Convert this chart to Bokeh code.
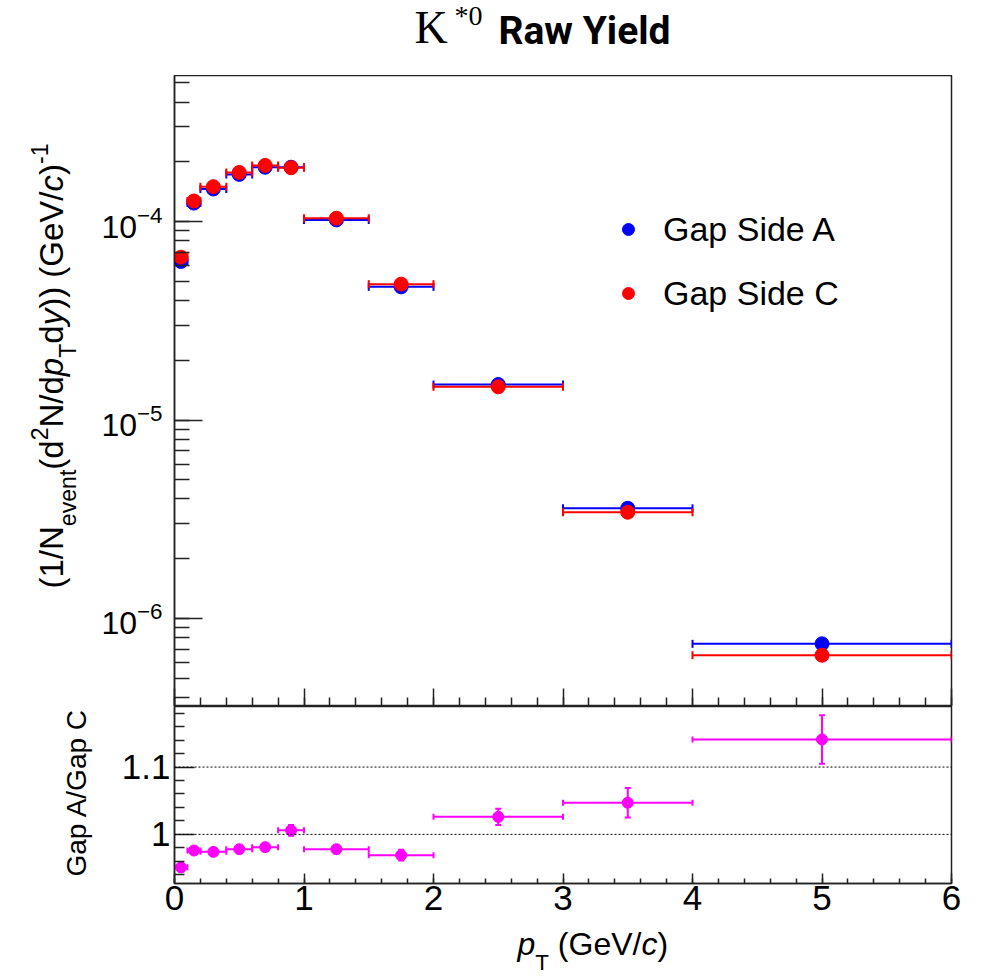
import math
from bokeh.plotting import figure
from bokeh.layouts import column, row
from bokeh.models import (ColumnDataSource, Whisker, TeeHead, Range1d, LogTicker,
                          SingleIntervalTicker, FixedTicker, Label, Legend, LegendItem, Span)
from bokeh.embed import file_html
from bokeh.resources import INLINE

# ---------------- data ----------------
pt = [0.05, 0.15, 0.3, 0.5, 0.7, 0.9, 1.25, 1.75, 2.5, 3.5, 5.0]
pt_lo = [0.0, 0.1, 0.2, 0.4, 0.6, 0.8, 1.0, 1.5, 2.0, 3.0, 4.0]
pt_hi = [0.1, 0.2, 0.4, 0.6, 0.8, 1.0, 1.5, 2.0, 3.0, 4.0, 6.0]

yield_A = [6.30e-5, 1.24e-4, 1.46e-4, 1.73e-4, 1.88e-4, 1.88e-4, 1.02e-4, 4.69e-5, 1.51e-5, 3.59e-6, 7.45e-7]
yield_A_err = [4.0e-7, 6.0e-7, 7.0e-7, 8.0e-7, 9.0e-7, 9.0e-7, 5.0e-7, 2.5e-7, 1.2e-7, 5.0e-8, 1.9e-8]
yield_C = [6.62e-5, 1.27e-4, 1.50e-4, 1.77e-4, 1.92e-4, 1.87e-4, 1.04e-4, 4.84e-5, 1.47e-5, 3.43e-6, 6.53e-7]
yield_C_err = [4.0e-7, 6.0e-7, 7.0e-7, 8.0e-7, 9.0e-7, 9.0e-7, 5.0e-7, 2.5e-7, 1.2e-7, 5.0e-8, 1.7e-8]

ratio = [0.951, 0.976, 0.974, 0.978, 0.981, 1.006, 0.978, 0.969, 1.026, 1.047, 1.141]
ratio_err = [0.006, 0.005, 0.005, 0.005, 0.005, 0.008, 0.006, 0.008, 0.012, 0.022, 0.036]

x_tick_values = [0, 1, 2, 3, 4, 5, 6]
ratio_ticks = [1.0, 1.1]
ratio_minor = [0.94, 0.96, 0.98, 1.02, 1.04, 1.06, 1.08, 1.12, 1.14, 1.16, 1.18]
ref_lines = [1.0, 1.1]

BLUE, RED, MAG = "#0000ff", "#ff0000", "#ff00ff"
FONT = "Liberation Sans"

def src(y, err):
    return ColumnDataSource(dict(
        x=pt, xlo=pt_lo, xhi=pt_hi, y=y,
        ylo=[a - b for a, b in zip(y, err)], yhi=[a + b for a, b in zip(y, err)]))

srcA, srcC, srcR = src(yield_A, yield_A_err), src(yield_C, yield_C_err), src(ratio, ratio_err)

def add_err(p, s, color, lw, cap):
    for dim, base, lo, hi in (("width", "y", "xlo", "xhi"), ("height", "x", "ylo", "yhi")):
        p.add_layout(Whisker(source=s, base=base, lower=lo, upper=hi, dimension=dim,
                             line_color=color, line_width=lw,
                             upper_head=TeeHead(size=cap, line_color=color, line_width=lw),
                             lower_head=TeeHead(size=cap, line_color=color, line_width=lw)))

def style(p):
    p.background_fill_color = "white"
    p.border_fill_color = "white"
    p.outline_line_color = "#222222"
    p.outline_line_width = 1.5
    p.xgrid.visible = False
    p.ygrid.visible = False
    p.title.visible = False
    for ax in (p.xaxis[0], p.yaxis[0]):
        ax.axis_line_color = "#222222"
        ax.axis_line_width = 1.5
        ax.major_tick_line_color = "#222222"
        ax.minor_tick_line_color = "#222222"
        ax.major_tick_line_width = 1.5
        ax.minor_tick_line_width = 1.5
        ax.major_tick_out = 0
        ax.minor_tick_out = 0
        ax.major_label_text_font = FONT
        ax.major_label_text_color = "black"

def text_canvas(w, h):
    """A blank figure used only to carry text labels."""
    f = figure(width=w, height=h, x_range=Range1d(0, 1), y_range=Range1d(0, 1),
               x_axis_location=None, y_axis_location=None, output_backend="svg",
               toolbar_location=None, min_border=0)
    f.min_border_left = f.min_border_right = f.min_border_top = f.min_border_bottom = 0
    f.outline_line_color = None
    f.xgrid.visible = False
    f.ygrid.visible = False
    f.title.visible = False
    f.background_fill_color = "white"
    f.border_fill_color = "white"
    return f

# the label anchor ends up ~0.35 em above the drawn baseline; compensate
H_SHIFT = 0.34
R_SHIFT = 0.40

def hlbl(f, x, base_y_from_bottom, text, size, font=FONT, style="normal"):
    f.add_layout(Label(x=x, y=base_y_from_bottom + H_SHIFT * size, x_units="screen",
                       y_units="screen", text=text, text_font=font,
                       text_font_size=f"{size:.1f}px", text_font_style=style,
                       text_color="black", text_align="left", text_baseline="alphabetic"))

def vlbl(f, base_x, y, text, size, style="normal"):
    f.add_layout(Label(x=base_x - R_SHIFT * size, y=y, x_units="screen", y_units="screen",
                       text=text, text_font=FONT, text_font_size=f"{size:.1f}px",
                       text_font_style=style, text_color="black", angle=math.pi / 2,
                       text_align="left", text_baseline="alphabetic"))

# character widths (Helvetica / Liberation Sans metrics, per 1000 em)
W = {'(': 333, ')': 333, '1': 556, '/': 278, 'N': 722, 'e': 556, 'v': 500, 'n': 556,
     't': 278, 'd': 556, '2': 556, 'p': 556, 'T': 611, 'y': 500, ' ': 278, 'G': 778,
     'V': 667, 'c': 500, '-': 333, 'a': 556, 'A': 667, 'C': 722}

def layout_runs(runs, size):
    pos, out = 0.0, []
    for txt, kind in runs:
        s = size * 0.7 if kind in ("sub", "sup") else size
        lead = len(txt) - len(txt.lstrip(" "))
        off = lead * W[' '] / 1000.0 * s
        out.append((txt.strip(" "), kind, pos + off, s))
        pos += sum(W[c] for c in txt) / 1000.0 * s
    return out

LEFT_W = 95          # width of the text strip left of the panels
TOP_H = 75           # title strip height
X_FRAME_LEFT = 174   # frame left edge in the page

x_range = Range1d(0, 6)

# ---------------- title strip ----------------
title_fig = text_canvas(981, TOP_H)
hlbl(title_fig, 414, TOP_H - 43, "K", 46, font="Liberation Serif")
hlbl(title_fig, 454, TOP_H - 25, "*0", 28, font="Liberation Serif")
hlbl(title_fig, 498, TOP_H - 44, "Raw Yield", 39, font="Roboto", style="bold")

# ---------------- upper panel ----------------
H1 = 631
p1 = figure(width=981 - LEFT_W, height=H1, x_range=x_range, y_range=Range1d(3.6e-7, 5.45e-4),
            y_axis_type="log", output_backend="svg", toolbar_location=None,
            min_border_left=X_FRAME_LEFT - LEFT_W, min_border_right=30,
            min_border_top=0, min_border_bottom=0)
style(p1)
p1.yaxis.ticker = LogTicker(num_minor_ticks=10)
p1.yaxis.major_tick_in = 28
p1.yaxis.minor_tick_in = 15
p1.yaxis.major_label_text_font_size = "32px"
p1.yaxis.major_label_standoff = 12
p1.xaxis.ticker = SingleIntervalTicker(interval=1, num_minor_ticks=5)
p1.xaxis.major_tick_in = 18
p1.xaxis.minor_tick_in = 9
# tick marks only: the labels are empty and take (almost) no room
p1.xaxis.major_label_text_font_size = "1px"
p1.xaxis.major_label_overrides = {str(v): "" for v in x_tick_values}
p1.xaxis.major_label_standoff = -10

add_err(p1, srcA, BLUE, 2, 8)
add_err(p1, srcC, RED, 2, 8)
rA = p1.scatter("x", "y", source=srcA, size=14, color=BLUE)
rC = p1.scatter("x", "y", source=srcC, size=14, color=RED)

legend = Legend(items=[LegendItem(label="Gap Side A", renderers=[rA]),
                       LegendItem(label="Gap Side C", renderers=[rC])],
                location=(439, 393), padding=0, margin=0, spacing=24,
                glyph_width=30, glyph_height=40, label_height=40, label_standoff=20,
                label_text_font=FONT, label_text_font_size="34px", label_text_color="black",
                border_line_alpha=0, background_fill_alpha=0)
p1.add_layout(legend)

# y-axis title strip for the upper panel (page y 75..706)
ylab1 = text_canvas(LEFT_W, H1)
ylab_runs = [("(1/N", "n"), ("event", "sub"), ("(d", "n"), ("2", "sup"), ("N/d", "n"),
             ("p", "it"), ("T", "sub"), ("d", "n"), ("y", "it"), (")) (GeV/", "n"),
             ("c", "it"), (")", "n"), ("-1", "sup")]
YSIZE = 33
page_bottom1 = TOP_H + H1
for txt, kind, pos, s in layout_runs(ylab_runs, YSIZE):
    dx = {"sub": 13, "sup": -16}.get(kind, 0)
    vlbl(ylab1, 64 + dx, (page_bottom1 - 588) + pos, txt, s,
         style="italic" if kind == "it" else "normal")

# ---------------- lower panel ----------------
H2 = 219
B2 = 42
p2 = figure(width=981 - LEFT_W, height=H2, x_range=x_range, y_range=Range1d(0.927, 1.19),
            output_backend="svg", toolbar_location=None,
            min_border_left=X_FRAME_LEFT - LEFT_W, min_border_right=30,
            min_border_top=0, min_border_bottom=B2)
style(p2)
p2.yaxis.ticker = FixedTicker(ticks=ratio_ticks, minor_ticks=ratio_minor)
p2.yaxis.major_label_overrides = {"1": "1", "1.1": "1.1"}
p2.yaxis.major_tick_in = 20
p2.yaxis.minor_tick_in = 10
p2.yaxis.major_label_text_font_size = "35px"
p2.yaxis.major_label_standoff = 4
p2.xaxis.ticker = SingleIntervalTicker(interval=1, num_minor_ticks=5)
p2.xaxis.major_tick_in = 10
p2.xaxis.minor_tick_in = 5
p2.xaxis.major_label_text_font_size = "35px"
p2.xaxis.major_label_standoff = 2

for v in ref_lines:
    p2.add_layout(Span(location=v, dimension="width", line_color="black",
                       line_width=1, line_dash="2 2"))

add_err(p2, srcR, MAG, 2, 6)
p2.scatter("x", "y", source=srcR, size=11, color=MAG)

# the strip's frame is aligned with p2's frame (bottom at page y 883)
frame_bottom2 = TOP_H + H1 + H2 - B2
ylab2 = text_canvas(LEFT_W, H2)
vlbl(ylab2, 87, frame_bottom2 - 876, "Gap A/Gap C", 28)

# ---------------- x-axis title strip ----------------
XH = 976 - (TOP_H + H1 + H2)
xlab = text_canvas(981, XH)
xlab_runs = [("p", "it"), ("T", "sub"), (" (GeV/", "n"), ("c", "it"), (")", "n")]
XSIZE = 32
page_top_x = TOP_H + H1 + H2
for txt, kind, pos, s in layout_runs(xlab_runs, XSIZE):
    base = 954 + (16 if kind == "sub" else 0)
    hlbl(xlab, 517 + pos, (page_top_x + XH) - base, txt, s,
         style="italic" if kind == "it" else "normal")

layout = column(title_fig,
                row(ylab1, p1, spacing=0),
                row(ylab2, p2, spacing=0),
                xlab, spacing=0)
open("out.html", "w").write(file_html(layout, INLINE))
